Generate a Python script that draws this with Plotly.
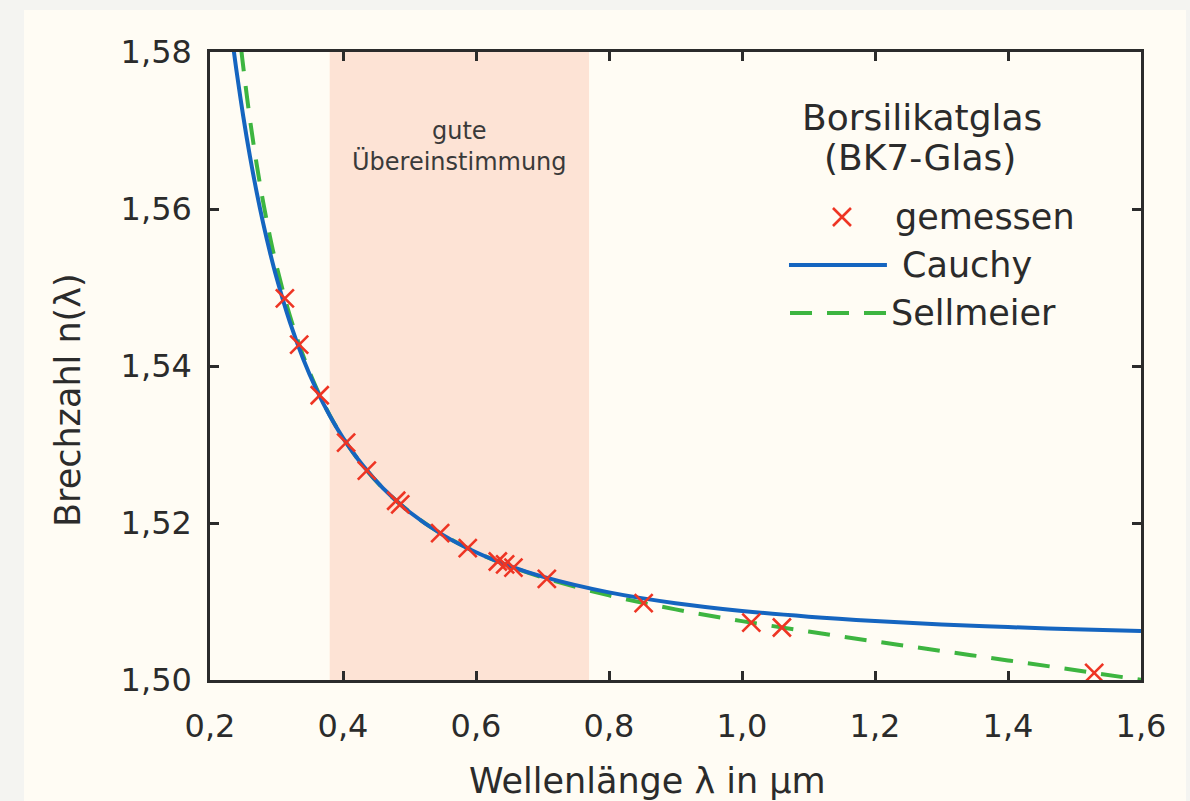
import plotly.graph_objects as go

# Measured BK7 refractive indices (wavelength in µm)
meas_wl = [0.3126, 0.3341, 0.3650, 0.4047, 0.4358, 0.4800, 0.4861, 0.5461, 0.5876,
           0.6328, 0.6438, 0.6563, 0.7065, 0.8521, 1.0140, 1.0600, 1.5296]
meas_n = [1.54862, 1.54272, 1.53627, 1.53024, 1.52668, 1.52283, 1.52238, 1.51872, 1.51680,
          1.51509, 1.51472, 1.51432, 1.51289, 1.50980, 1.50731, 1.50669, 1.50091]

# Cauchy model curve (values read/sampled)
cauchy_wl = [0.235, 0.24, 0.25, 0.26, 0.27, 0.28, 0.29, 0.30, 0.32, 0.34, 0.36, 0.38, 0.40,
             0.43, 0.46, 0.50, 0.55, 0.60, 0.65, 0.70, 0.80, 0.90, 1.0, 1.1, 1.2, 1.3, 1.4, 1.5, 1.6]
cauchy_n = [1.580653, 1.577517, 1.5718, 1.56673, 1.562213, 1.558171, 1.554541, 1.551267,
            1.545616, 1.540932, 1.537007, 1.533686, 1.53085, 1.527315, 1.524449, 1.5214,
            1.518484, 1.516267, 1.514541, 1.513171, 1.511163, 1.509785, 1.5088, 1.508071,
            1.507517, 1.507085, 1.506743, 1.506467, 1.506241]

# Sellmeier model curve (values read/sampled)
sell_wl = [0.247, 0.25, 0.26, 0.27, 0.28, 0.29, 0.30, 0.32, 0.34, 0.36, 0.38, 0.40, 0.43,
           0.46, 0.50, 0.55, 0.60, 0.65, 0.70, 0.80, 0.90, 1.0, 1.1, 1.2, 1.3, 1.4, 1.5, 1.6]
sell_n = [1.580321, 1.57811, 1.571474, 1.565786, 1.560858, 1.556556, 1.55277, 1.546429,
          1.541344, 1.53719, 1.533745, 1.530848, 1.527288, 1.524433, 1.521414, 1.518522,
          1.516295, 1.514521, 1.513064, 1.510776, 1.508996, 1.507502, 1.506167, 1.504916,
          1.503703, 1.502497, 1.501274, 1.500020]

band = [0.38, 0.77]
x_ticks = [0.2, 0.4, 0.6, 0.8, 1.0, 1.2, 1.4, 1.6]
y_ticks = [1.50, 1.52, 1.54, 1.56, 1.58]

FONT = "DejaVu Sans"
RED = "#ee3524"
BLUE = "#1565c0"
GREEN = "#3db540"
DARK = "#2b2b2b"
CREAM = "#fffcf4"
GREY = "#f4f4f1"

fig = go.Figure()

fig.add_trace(go.Scatter(x=sell_wl, y=sell_n, mode="lines", line_shape="spline",
                         line=dict(color=GREEN, width=4, dash="22px,15px"), showlegend=False))
fig.add_trace(go.Scatter(x=cauchy_wl, y=cauchy_n, mode="lines", line_shape="spline",
                         line=dict(color=BLUE, width=4), showlegend=False))
fig.add_trace(go.Scatter(x=meas_wl, y=meas_n, mode="markers",
                         marker=dict(symbol="x-thin", size=18, line=dict(color=RED, width=2.6)),
                         showlegend=False, cliponaxis=False))

# manual legend samples on hidden overlay axes (0..1 = plot area)
fig.add_trace(go.Scatter(x=[0.6788], y=[0.7373], mode="markers", xaxis="x2", yaxis="y2",
                         marker=dict(symbol="x-thin", size=18, line=dict(color=RED, width=2.6)),
                         showlegend=False))
fig.add_trace(go.Scatter(x=[0.6219, 0.7271], y=[0.6608, 0.6608], mode="lines", xaxis="x2", yaxis="y2",
                         line=dict(color=BLUE, width=4), showlegend=False))
fig.add_trace(go.Scatter(x=[0.6230, 0.7282], y=[0.5844, 0.5844], mode="lines", xaxis="x2", yaxis="y2",
                         line=dict(color=GREEN, width=4, dash="22px,15px"), showlegend=False))

# cream panel on grey page
fig.add_shape(type="rect", xref="paper", yref="paper",
              x0=(24 - 210) / 931, x1=(1186 - 210) / 931,
              y0=(680 - 801) / 628 - 0.01, y1=(680 - 10) / 628,
              fillcolor=CREAM, line_width=0, layer="below")
# visible spectrum band
fig.add_vrect(x0=band[0], x1=band[1], fillcolor="#fde3d5", opacity=1, line_width=0, layer="below")

def A(**kw):
    base = dict(showarrow=False, xanchor="center", yanchor="middle")
    base.update(kw)
    return base

ann = []
ann.append(A(x=(band[0] + band[1]) / 2, xref="x", y=(680 - 131) / 628, yref="paper",
             text="gute", font=dict(family=FONT, size=24, color="#3a3a3a")))
ann.append(A(x=(band[0] + band[1]) / 2, xref="x", y=(680 - 161) / 628, yref="paper",
             text="Übereinstimmung", font=dict(family=FONT, size=24, color="#3a3a3a")))
ann.append(A(x=0.7648, y=(680 - 117) / 628, xref="paper", yref="paper", text="Borsilikatglas",
             font=dict(family=FONT, size=36, color=DARK)))
ann.append(A(x=0.7626, y=(680 - 158) / 628, xref="paper", yref="paper", text="(BK7-Glas)",
             font=dict(family=FONT, size=36, color=DARK)))
for txt, xx, yy in [("gemessen", 0.7336, 0.7373), ("Cauchy", 0.7411, 0.6608), ("Sellmeier", 0.7293, 0.5844)]:
    ann.append(A(x=xx, y=yy, xref="paper", yref="paper", text=txt, xanchor="left",
                 font=dict(family=FONT, size=35, color=DARK)))
ann.append(A(x=(647 - 210) / 931, y=(680 - 781) / 628, xref="paper", yref="paper",
             text="Wellenlänge λ in µm", font=dict(family=FONT, size=35, color=DARK)))
ann.append(A(x=(68 - 210) / 931, y=(680 - 400) / 628, xref="paper", yref="paper",
             text="Brechzahl n(λ)", textangle=-90, font=dict(family=FONT, size=35, color=DARK)))

axis_common = dict(showline=True, linecolor=DARK, linewidth=2.5, mirror="ticks", ticks="inside",
                   ticklen=9, tickwidth=2.5, tickcolor=DARK, showgrid=False, zeroline=False,
                   tickfont=dict(family=FONT, size=32, color=DARK))

fig.update_layout(
    width=1190, height=801,
    margin=dict(l=210, r=49, t=52, b=121),
    paper_bgcolor=GREY, plot_bgcolor="rgba(0,0,0,0)",
    separators=",.",
    xaxis=dict(range=[0.2, 1.6], tickvals=x_ticks, tickformat=".1f", ticklabelstandoff=16, **axis_common),
    yaxis=dict(range=[1.50, 1.58], tickvals=y_ticks, tickformat=".2f", ticklabelstandoff=9, **axis_common),
    xaxis2=dict(range=[0, 1], overlaying="x", visible=False, fixedrange=True),
    yaxis2=dict(range=[0, 1], overlaying="y", visible=False, fixedrange=True),
    annotations=ann,
    showlegend=False,
)

fig.write_html("out.html", config={"displayModeBar": False},
               post_script="document.body.style.margin='0';document.body.style.background='%s';" % GREY)
